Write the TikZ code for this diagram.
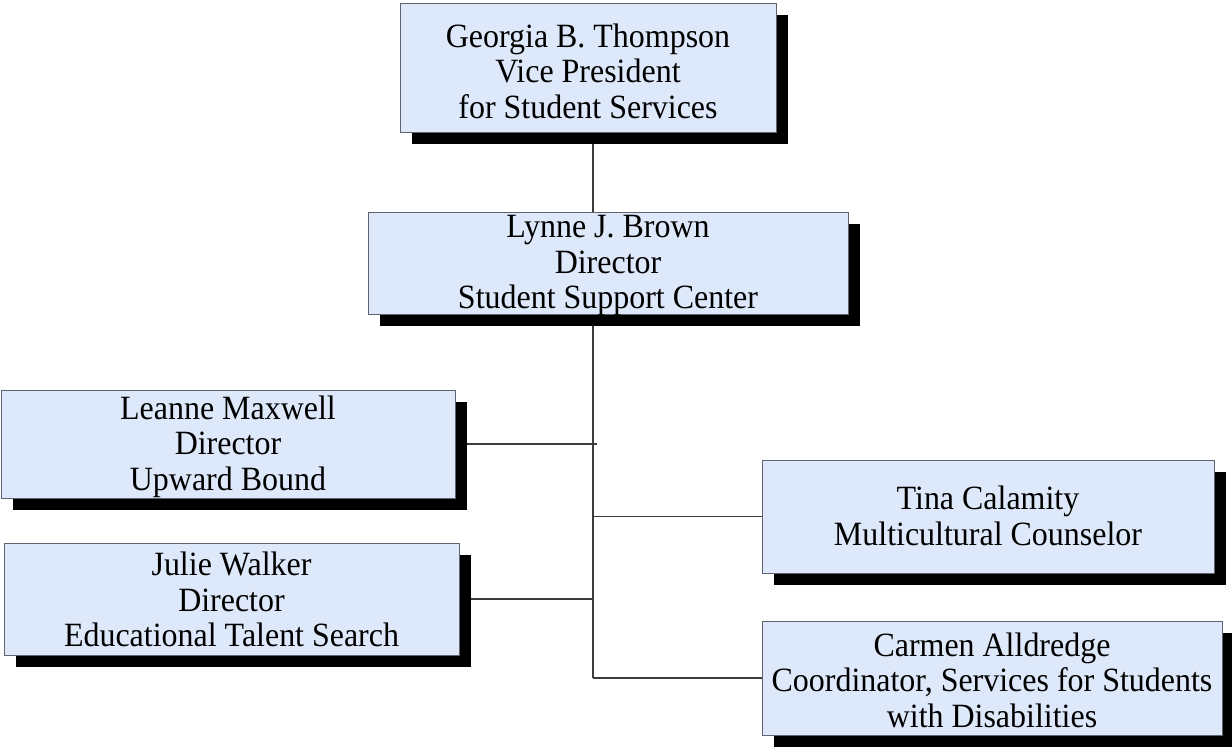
\documentclass[tikz,border=0pt]{standalone}
\usepackage{fontspec}
\setmainfont[FakeStretch=0.94]{Liberation Serif}
\usetikzlibrary{shadows}
\pgfdeclarelayer{bg}
\pgfsetlayers{bg,main}
\definecolor{boxfill}{RGB}{221,232,250}
\definecolor{boxline}{RGB}{96,100,112}
\definecolor{conn}{RGB}{60,60,60}
\newcommand{\topstrut}[1]{\rule{0pt}{#1pt}}
\newcommand{\botstrut}{\rule[-8pt]{0pt}{8pt}}
\begin{document}
\begin{tikzpicture}[x=1pt,y=-1pt,
  orgbox/.style={draw=boxline, line width=1pt, fill=boxfill, align=center,
    inner sep=0pt, font=\fontsize{34}{35.5}\selectfont,
    drop shadow={shadow xshift=12pt, shadow yshift=-12pt, opacity=1, fill=black}},
  link/.style={draw=conn, line width=1.2pt}]
\useasboundingbox (0,0) rectangle (1232,747);
\node[orgbox, minimum width=376pt, minimum height=129pt] (a) at (588,67.5)
  {\topstrut{38}Georgia B. Thompson\\Vice President\\for Student Services\botstrut};
\node[orgbox, minimum width=480pt, minimum height=102pt] (b) at (608,263)
  {\topstrut{25}\smash{Lynne J. Brown}\\Director\\\smash{Student Support Center}\rule[-5pt]{0pt}{5pt}};
\node[orgbox, minimum width=454pt, minimum height=108pt] (c) at (228,444)
  {\topstrut{29}Leanne Maxwell\\Director\\Upward Bound\botstrut};
\node[orgbox, minimum width=455pt, minimum height=112pt] (d) at (231.5,599)
  {\topstrut{32}Julie Walker\\Director\\Educational Talent Search\botstrut};
\node[orgbox, minimum width=452pt, minimum height=113pt] (e) at (988,516.5)
  {\topstrut{30}Tina Calamity\\Multicultural Counselor\botstrut};
\node[orgbox, minimum width=460pt, minimum height=114pt] (f) at (992,678)
  {\topstrut{35}Carmen Alldredge\\Coordinator, Services for Students\\with Disabilities\botstrut};
\coordinate (s) at (593,0);
\coordinate (end) at (s |- f.west);
\begin{pgfonlayer}{bg}
\draw[link] (s |- a.south) -- (s |- b.north);
\draw[link] (s |- b.south) -- (end);
\draw[link] (c.east) -- ([xshift=4pt]s |- c.east);
\draw[link] (d.east) -- (s |- d.east);
\draw[link] (s |- e.west) -- (e.west);
\draw[link] (end) -- (f.west);
\end{pgfonlayer}
\end{tikzpicture}
\end{document}
